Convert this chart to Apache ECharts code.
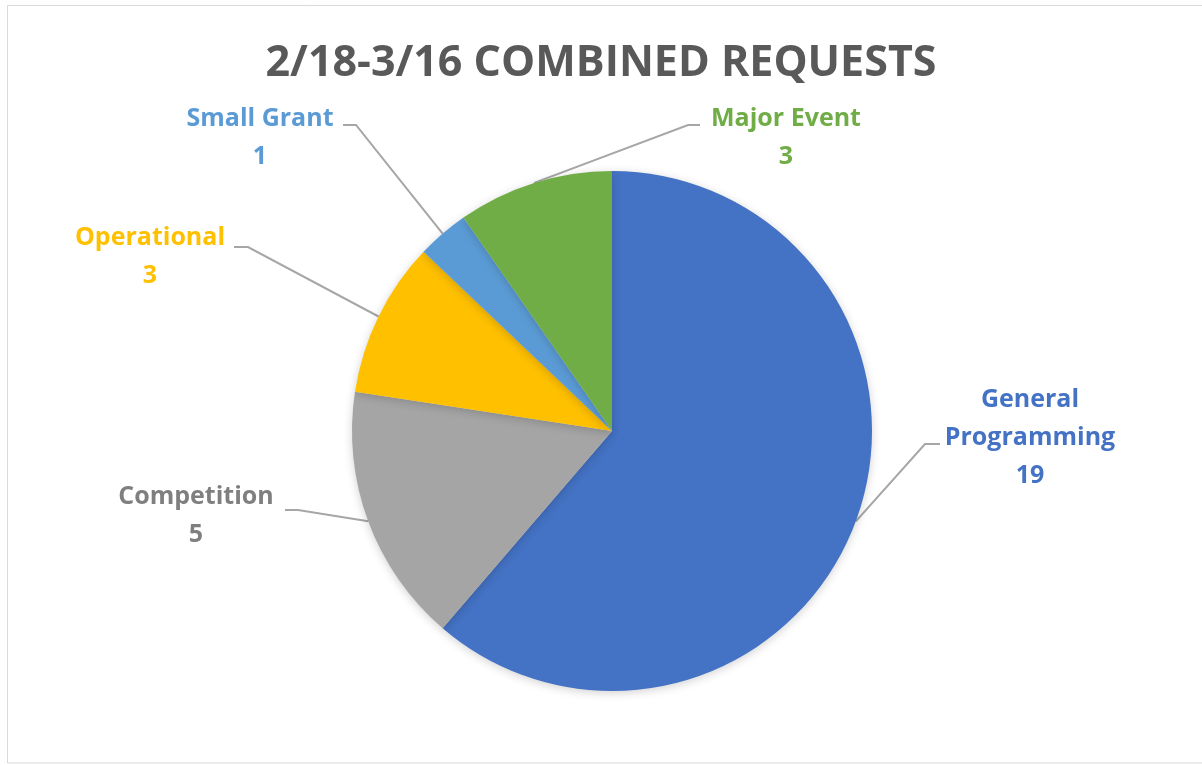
<!DOCTYPE html>
<html>
<head>
<meta charset="utf-8">
<script src="https://cdn.jsdelivr.net/npm/echarts@6/dist/echarts.min.js"></script>
<style>html,body{margin:0;padding:0;background:#fff;}#c{width:1202px;height:765px;}</style>
</head>
<body>
<div id="c"></div>
<script>
const titleText = '2/18-3/16 COMBINED REQUESTS';
const categories = ['General Programming', 'Competition', 'Operational', 'Small Grant', 'Major Event'];
const values = [19, 5, 3, 1, 3];
const sliceColors = ['#4472C4', '#A5A5A5', '#FFC000', '#5B9BD5', '#70AD47'];
const labelColors = ['#4472C4', '#7F7F7F', '#FFC000', '#5B9BD5', '#70AD47'];

// label layout (text block centre, leader elbow, leader end) per slice
const labelLayouts = [
  { c: [1030, 438], elbow: [925, 444], end: [940, 444] },
  { c: [196, 516], elbow: [298, 510], end: [285, 510] },
  { c: [150, 257], elbow: [248, 247], end: [234, 247] },
  { c: [260, 138], elbow: [356, 125], end: [343, 125] },
  { c: [786, 138], elbow: [688, 125], end: [700, 125] }
];

const FONT = '"Open Sans", sans-serif';
const chart = echarts.init(document.getElementById('c'), null, { renderer: 'canvas' });
chart.setOption({
  backgroundColor: '#fff',
  animation: false,
  graphic: [{
    type: 'rect',
    shape: { x: 7.5, y: 5.5, width: 1200, height: 757.5 },
    style: { fill: 'none', stroke: '#D9D9D9', lineWidth: 1 },
    silent: true
  }],
  title: {
    text: titleText,
    left: 'center',
    top: 37,
    textStyle: { fontFamily: FONT, fontSize: 43, fontWeight: 'bold', color: '#595959' }
  },
  series: [{
    type: 'pie',
    center: [612, 431],
    radius: 260,
    startAngle: 90,
    clockwise: true,
    avoidLabelOverlap: false,
    itemStyle: { borderWidth: 0, shadowBlur: 10, shadowColor: 'rgba(0,0,0,0.18)', shadowOffsetY: 2 },
    label: {
      show: true,
      position: 'outside',
      fontFamily: FONT,
      fontSize: 25,
      fontWeight: 'bold',
      lineHeight: 38,
      align: 'center',
      formatter: p => (p.name === 'General Programming' ? 'General\nProgramming' : p.name) + '\n' + p.value
    },
    labelLine: { show: true, length: 20, length2: 15, lineStyle: { color: '#A6A6A6', width: 2 } },
    labelLayout: function (params) {
      const L = labelLayouts[params.dataIndex];
      const p0 = params.labelLinePoints ? params.labelLinePoints[0] : L.elbow;
      return {
        x: L.c[0], y: L.c[1], align: 'center', verticalAlign: 'middle',
        labelLinePoints: [p0, L.elbow, L.end]
      };
    },
    data: categories.map((n, i) => ({
      name: n,
      value: values[i],
      itemStyle: { color: sliceColors[i] },
      label: { color: labelColors[i] },
      labelLine: { lineStyle: { color: '#A6A6A6', width: 2 } }
    }))
  }]
});
</script>
</body>
</html>
